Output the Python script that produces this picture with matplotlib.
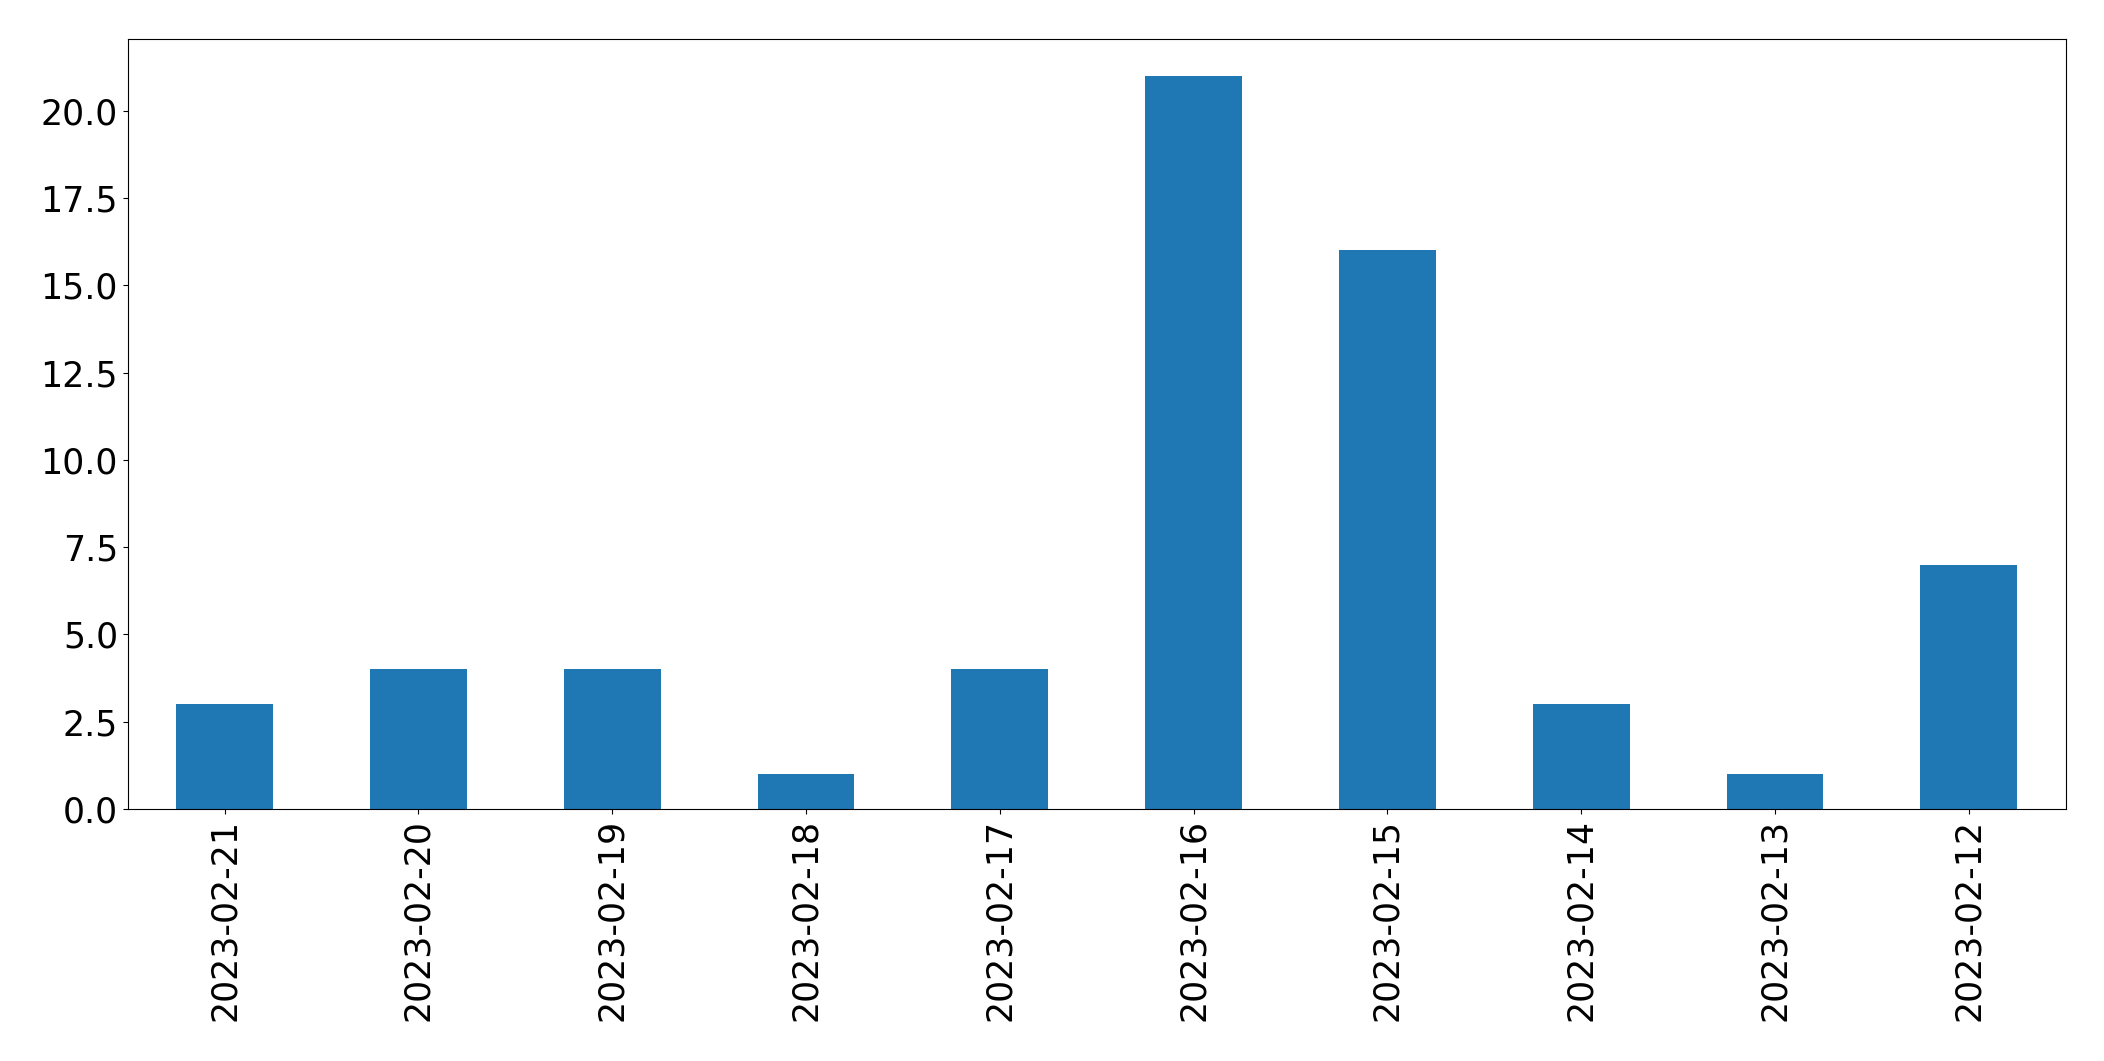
import matplotlib
matplotlib.use("Agg")
import matplotlib.pyplot as plt

dates = ["2023-02-21", "2023-02-20", "2023-02-19", "2023-02-18", "2023-02-17",
         "2023-02-16", "2023-02-15", "2023-02-14", "2023-02-13", "2023-02-12"]
counts = [3, 4, 4, 1, 4, 21, 16, 3, 1, 7]

fig = plt.figure(figsize=(21.04, 10.61), dpi=100)
ax = fig.add_axes([0.0607, 0.2375, 0.9211, 0.7255])
x = range(len(dates))
ax.bar(x, counts, width=0.5, color="#1f77b4")
ax.set_xlim(-0.5, len(dates) - 0.5)
ax.set_ylim(0, max(counts) * 1.05)
ax.set_xticks(list(x))
ax.set_xticklabels(dates, rotation=90)
ax.tick_params(labelsize=25)
fig.savefig("out.png", dpi=100)
